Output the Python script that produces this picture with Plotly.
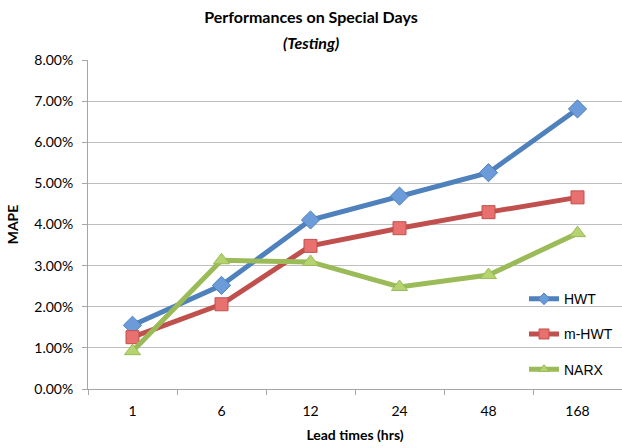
import plotly.graph_objects as go

categories = ["1", "6", "12", "24", "48", "168"]
hwt = [0.0155, 0.0252, 0.0411, 0.0469, 0.0526, 0.0681]
mhwt = [0.0126, 0.0206, 0.0348, 0.0391, 0.0430, 0.0466]
narx = [0.0092, 0.0313, 0.0309, 0.0248, 0.0277, 0.0379]
series_names = ["HWT", "m-HWT", "NARX"]

fig = go.Figure()
styles = [
    (hwt, "#4F81BD", "#6B9BD8", "diamond", 14, 9),
    (mhwt, "#C0504D", "#E8716F", "square", 13, 10),
    (narx, "#9BBB59", "#B5D36E", "triangle-up", 14, 9),
]
for i, (vals, lc, mc, sym, ms, lms) in enumerate(styles):
    fig.add_trace(go.Scatter(
        x=categories, y=vals, name=series_names[i], mode="lines+markers",
        line=dict(color=lc, width=5),
        marker=dict(symbol=sym, size=ms, color=mc, line=dict(color=lc, width=1)),
        legendgroup=series_names[i], showlegend=False,
    ))
    # legend entry with smaller marker, like the reference legend
    fig.add_trace(go.Scatter(
        x=[None], y=[None], name=series_names[i], mode="lines+markers",
        line=dict(color=lc, width=5),
        marker=dict(symbol=sym, size=lms, color=mc, line=dict(color=lc, width=1)),
        legendgroup=series_names[i], showlegend=True,
    ))

fig.update_layout(
    width=622, height=448,
    margin=dict(l=88, r=0, t=60, b=59),
    paper_bgcolor="white", plot_bgcolor="white",
    font=dict(family="Lato, Arial", size=13, color="#000000"),
    title=dict(text="<b>Performances on Special Days</b>", x=0.5, xanchor="center",
               xref="container", y=1 - 17 / 448, yanchor="middle", yref="container",
               font=dict(family="Lato", size=16, color="#000")),
    annotations=[dict(text="<b><i>(Testing)</i></b>", x=(311 - 88) / 534, xref="paper",
                      xanchor="center", y=(388.5 - 43) / 328, yref="paper", yanchor="middle",
                      showarrow=False, font=dict(family="Lato", size=16, color="#000"))],
    showlegend=True,
    legend=dict(x=(524 - 88) / 534, xanchor="left", y=(388.5 - 283) / 328, yanchor="top",
                bgcolor="rgba(0,0,0,0)", font=dict(family="Liberation Sans, Arial", size=14),
                tracegroupgap=14, itemwidth=30),
    xaxis=dict(type="category", range=[-0.5, 5.5], showgrid=False, showline=True,
               linecolor="#A6A6A6", linewidth=1, ticks="outside", tickson="boundaries",
               ticklen=5, tickcolor="#A6A6A6", ticklabelstandoff=9,
               title=dict(text="<b>Lead times (hrs)</b>", standoff=12,
                          font=dict(family="Lato", size=14)),
               tickfont=dict(family="Lato", size=14)),
    yaxis=dict(range=[0, 0.08], dtick=0.01, tickformat=".2%", showgrid=True,
               gridcolor="#BFBFBF", gridwidth=1, showline=True, linecolor="#A6A6A6",
               ticks="outside", ticklen=5, tickcolor="#A6A6A6", zeroline=False,
               ticklabelstandoff=6,
               title=dict(text="<b>MAPE</b>", standoff=12, font=dict(family="Lato", size=14)),
               tickfont=dict(family="Lato", size=14)),
)
fig.write_html("out.html")
